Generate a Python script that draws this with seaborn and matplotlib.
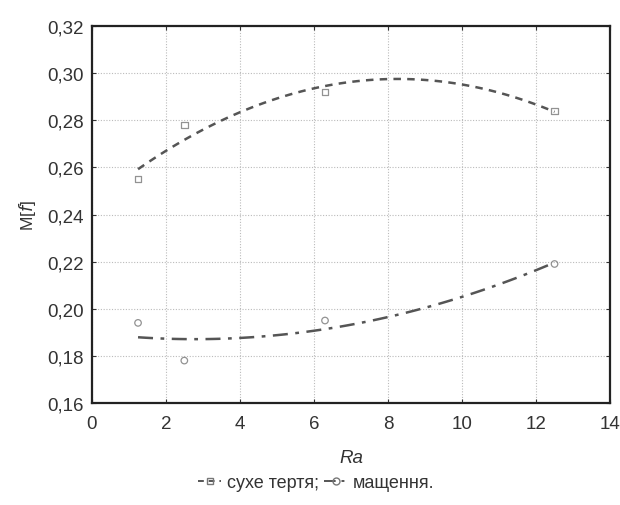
import numpy as np
import pandas as pd
import matplotlib
matplotlib.use('Agg')
import matplotlib.pyplot as plt
from matplotlib.ticker import FuncFormatter, MultipleLocator
from matplotlib.lines import Line2D
import seaborn as sns

# ── Data ──────────────────────────────────────────────────────
ra = [1.25, 2.5, 6.3, 12.5]
mf_dry = [0.255, 0.278, 0.292, 0.284]
mf_lub = [0.194, 0.178, 0.195, 0.219]
labels = ['сухе тертя;', 'мащення.']

df = pd.DataFrame({'Ra': ra + ra,
                   'Mf': mf_dry + mf_lub,
                   'kind': [labels[0]] * len(ra) + [labels[1]] * len(ra)})

sns.set_style('white')
plt.rcParams['font.family'] = ['Liberation Sans', 'DejaVu Sans']

fig = plt.figure(figsize=(6.2, 5.06), dpi=100)
ax = fig.add_axes([0.148, 0.2016, 0.836, 0.745])

GREY = '#555555'
styles = {labels[0]: ('s', (0, (3, 2.5))), labels[1]: ('o', (0, (6, 3, 1.5, 3)))}

for name, sub in df.groupby('kind', sort=False):
    mk, ls = styles[name]
    sns.regplot(data=sub, x='Ra', y='Mf', order=2, ci=None, ax=ax,
                marker=mk, truncate=True,
                scatter_kws={'s': 22, 'facecolors': 'none', 'edgecolors': '#777777',
                             'linewidths': 0.9},
                line_kws={'color': GREY, 'linestyle': ls, 'linewidth': 1.8})

ax.set_xlim(0, 14)
ax.set_ylim(0.16, 0.32)
ax.xaxis.set_major_locator(MultipleLocator(2))
ax.yaxis.set_major_locator(MultipleLocator(0.02))
ax.yaxis.set_major_formatter(FuncFormatter(lambda v, p: f'{v:.2f}'.replace('.', ',')))
ax.xaxis.set_major_formatter(FuncFormatter(lambda v, p: f'{v:g}'))
ax.grid(True, color='#bbbbbb', linestyle=(0, (1, 1.5)), linewidth=0.8)
ax.tick_params(axis='both', direction='in', length=3, labelsize=13.5, colors='#333333',
               top=True, right=True, bottom=True, left=True)
ax.tick_params(axis='x', pad=9)
ax.tick_params(axis='y', pad=6)
for s in ax.spines.values():
    s.set_color('#222222')
    s.set_linewidth(1.6)

ax.set_xlabel('Ra', style='italic', fontsize=13.5, color='#333333', labelpad=12)
ax.set_ylabel('M[$\\it{f}$]', fontsize=12.5, color='#333333', labelpad=6)

handles = [Line2D([], [], color=GREY, linestyle=styles[l][1], linewidth=1.4,
                  marker=styles[l][0], markerfacecolor='none',
                  markeredgecolor='#777777', markersize=5) for l in labels]
fig.legend(handles, labels, loc='lower center', ncol=2, frameon=False,
           bbox_to_anchor=(0.51, -0.005), fontsize=13, handlelength=1.3,
           handletextpad=0.3, columnspacing=0.3, labelcolor='#333333')

fig.savefig('out.png', dpi=100, facecolor='white')
